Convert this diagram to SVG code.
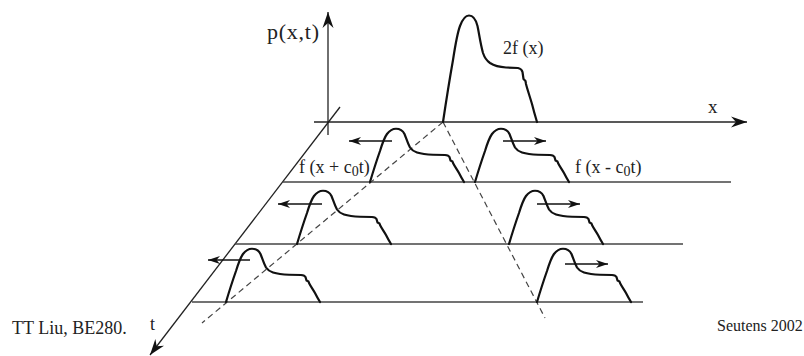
<svg xmlns="http://www.w3.org/2000/svg" xmlns:xlink="http://www.w3.org/1999/xlink" width="804" height="356" viewBox="0 0 804 356">
<style>
.ax{stroke:#222;stroke-width:1.3;fill:none}
.base{stroke:#444;stroke-width:1.3;fill:none}
.dash{stroke:#444;stroke-width:1.2;fill:none;stroke-dasharray:6 4}
.pulse{stroke:#111;stroke-width:2.2;fill:none;stroke-linejoin:round;stroke-linecap:round}
.arr{stroke:#111;stroke-width:1.3;fill:none}
text{font-family:"Liberation Serif","Times New Roman",serif;fill:#222}
</style>
<defs>
<marker id="bigHead" viewBox="-16 -6 17 12" refX="0" refY="0" markerWidth="17" markerHeight="12" markerUnits="userSpaceOnUse" orient="auto">
<path d="M0,0 L-16,-5.5 L-11,0 L-16,5.5 z" fill="#111"/>
</marker>
<marker id="smallHead" viewBox="-12 -5 13 10" refX="0" refY="0" markerWidth="13" markerHeight="10" markerUnits="userSpaceOnUse" orient="auto">
<path d="M0,0 L-12,-4 L-8.5,0 L-12,4 z" fill="#111"/>
</marker>
<path id="pulse" class="pulse" vector-effect="non-scaling-stroke" d="M0,0 C3,-20 7,-45 10,-62 C12,-75 14,-88 17,-96 C20,-104 23,-106.5 26,-106.5 C30,-106.5 33,-102 34.5,-96 C36,-89 37.5,-78 40,-69 C42,-63 44,-61 47,-59 C51,-56.5 56,-55 63,-54.5 L75,-54 C77.5,-53.5 79,-52 79.5,-50 L80.5,-43 L82.5,-41 L83,-38 C84.5,-32 87,-25 89,-18 C91,-10 92.5,-5 94,0"/>
</defs>

<g id="axes">
<line class="ax" x1="328" y1="135" x2="328" y2="12" marker-end="url(#bigHead)"/>
<line class="ax" x1="314" y1="122" x2="747" y2="122" marker-end="url(#bigHead)"/>
<line class="ax" x1="340" y1="107" x2="150" y2="355" marker-end="url(#bigHead)"/>
</g>

<g id="baselines">
<line class="base" x1="283" y1="182" x2="731" y2="182"/>
<line class="base" x1="235" y1="244" x2="683" y2="244"/>
<line class="base" x1="192" y1="302" x2="643" y2="302"/>
</g>

<g id="connectors">
<line class="dash" x1="443" y1="122" x2="202" y2="323"/>
<line class="dash" x1="443" y1="122" x2="545" y2="318"/>
<line class="arr" x1="392" y1="141" x2="349" y2="141" marker-end="url(#smallHead)"/>
<line class="arr" x1="503" y1="141" x2="546" y2="141" marker-end="url(#smallHead)"/>
<line class="arr" x1="322" y1="204" x2="278" y2="204" marker-end="url(#smallHead)"/>
<line class="arr" x1="537" y1="204" x2="580" y2="204" marker-end="url(#smallHead)"/>
<line class="arr" x1="250" y1="260" x2="208" y2="260" marker-end="url(#smallHead)"/>
<line class="arr" x1="565" y1="264" x2="608" y2="264" marker-end="url(#smallHead)"/>
</g>

<g id="pulse-main">
<use xlink:href="#pulse" transform="translate(443,122)"/>
</g>
<g id="pulses-left">
<use xlink:href="#pulse" transform="translate(370,182) scale(1,0.5)"/>
<use xlink:href="#pulse" transform="translate(297,244) scale(1,0.5)"/>
<use xlink:href="#pulse" transform="translate(226,302) scale(1,0.5)"/>
</g>
<g id="pulses-right">
<use xlink:href="#pulse" transform="translate(475,182) scale(1,0.5)"/>
<use xlink:href="#pulse" transform="translate(509,244) scale(1,0.5)"/>
<use xlink:href="#pulse" transform="translate(537,302) scale(1,0.5)"/>
</g>

<g id="labels">
<text x="267" y="39" font-size="22" textLength="52" lengthAdjust="spacing">p(x,t)</text>
<text x="503" y="54" font-size="18">2f (x)</text>
<text x="708" y="113" font-size="19">x</text>
<text x="299" y="173" font-size="18">f (x + c<tspan dy="3" font-size="14">0</tspan><tspan dy="-3">t)</tspan></text>
<text x="575" y="173" font-size="18">f (x - c<tspan dy="3" font-size="14">0</tspan><tspan dy="-3">t)</tspan></text>
<text x="150" y="330" font-size="18">t</text>
<text x="12" y="334" font-size="18">TT Liu, BE280.</text>
<text x="717" y="331" font-size="16">Seutens 2002</text>
</g>
</svg>
